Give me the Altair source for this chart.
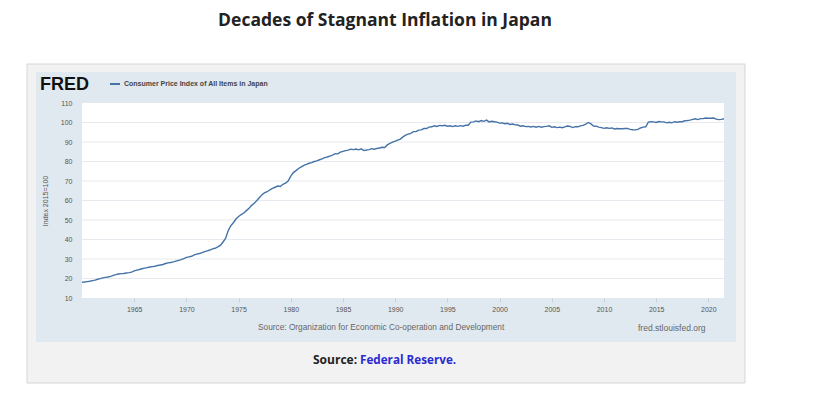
import altair as alt
import pandas as pd

# Quarterly CPI (2015=100), Japan, Q1 1960 .. Q3 2021
cpi = [
    18.1, 18.2, 18.4, 18.6,   # 1960
    18.9, 19.2, 19.6, 19.9,   # 1961
    20.3, 20.6, 20.8, 21.1,   # 1962
    21.6, 22.0, 22.3, 22.5,   # 1963
    22.6, 22.8, 23.0, 23.3,   # 1964
    23.9, 24.3, 24.6, 25.0,   # 1965
    25.3, 25.6, 25.9, 26.1,   # 1966
    26.3, 26.7, 26.9, 27.2,   # 1967
    27.7, 28.0, 28.2, 28.5,   # 1968
    28.9, 29.3, 29.7, 30.2,   # 1969
    30.8, 31.1, 31.4, 32.1,   # 1970
    32.5, 32.8, 33.3, 33.8,   # 1971
    34.2, 34.6, 35.2, 35.5,   # 1972
    36.2, 37.0, 38.6, 40.5,   # 1973
    44.5, 47.0, 48.6, 50.5,   # 1974
    51.8, 52.8, 53.6, 54.8,   # 1975
    56.0, 57.5, 58.6, 60.0,   # 1976
    61.5, 63.0, 64.0, 64.5,   # 1977
    65.5, 66.2, 66.8, 67.4,   # 1978
    67.2, 68.3, 68.9, 70.0,   # 1979
    72.5, 74.3, 75.3, 76.4,   # 1980
    77.2, 78.0, 78.5, 79.1,   # 1981
    79.4, 80.0, 80.3, 80.9,   # 1982
    81.3, 82.0, 82.3, 82.8,   # 1983
    83.3, 84.0, 83.9, 84.8,   # 1984
    85.2, 85.6, 85.8, 86.3,   # 1985
    86.1, 86.4, 86.0, 86.5,   # 1986
    85.6, 85.9, 86.1, 86.6,   # 1987
    86.3, 86.7, 86.9, 87.3,   # 1988
    87.2, 88.5, 89.3, 89.9,   # 1989
    90.4, 91.0, 91.5, 92.6,   # 1990
    93.5, 94.0, 94.4, 95.3,   # 1991
    95.3, 96.1, 96.2, 96.9,   # 1992
    96.9, 97.6, 97.8, 98.3,   # 1993
    98.0, 98.5, 98.3, 98.6,   # 1994
    98.1, 98.3, 97.9, 98.3,   # 1995
    98.0, 98.4, 98.1, 98.6,   # 1996
    98.6, 100.2, 100.3, 100.8,  # 1997
    100.4, 101.0, 100.6, 101.2,  # 1998
    100.3, 100.6, 100.4, 100.2,  # 1999
    99.7, 99.8, 99.4, 99.6,   # 2000
    99.0, 99.2, 98.8, 98.7,   # 2001
    98.1, 98.3, 97.9, 98.0,   # 2002
    97.7, 98.0, 97.6, 98.0,   # 2003
    97.6, 97.9, 98.0, 98.3,   # 2004
    97.5, 97.8, 97.4, 97.6,   # 2005
    97.3, 97.8, 98.2, 98.0,   # 2006
    97.4, 97.9, 97.8, 98.3,   # 2007
    98.5, 99.2, 100.0, 99.3,  # 2008
    98.2, 98.1, 97.6, 97.4,   # 2009
    97.0, 97.3, 97.0, 97.2,   # 2010
    96.7, 96.9, 96.8, 96.8,   # 2011
    96.9, 97.0, 96.5, 96.3,   # 2012
    96.2, 96.5, 97.2, 97.6,   # 2013
    97.8, 100.2, 100.4, 100.3,  # 2014
    100.0, 100.5, 100.3, 100.3,  # 2015
    99.8, 100.1, 99.8, 100.4,  # 2016
    100.1, 100.4, 100.4, 100.9,  # 2017
    101.0, 101.2, 101.6, 101.9,  # 2018
    101.5, 102.0, 102.0, 102.3,  # 2019
    102.2, 102.2, 102.3, 101.7,  # 2020
    101.5, 101.6, 101.9,        # 2021
]
y_ticks = [10, 20, 30, 40, 50, 60, 70, 80, 90, 100, 110]
grid_values = [20, 30, 40, 50, 60, 70, 80, 90, 100]
x_tick_years = [1965, 1970, 1975, 1980, 1985, 1990, 1995, 2000, 2005, 2010, 2015, 2020]

dates = pd.date_range("1960-01-01", periods=len(cpi), freq="QS")
df = pd.DataFrame({"date": dates.strftime("%Y-%m-%d"), "cpi": cpi})
grid_df = pd.DataFrame({"v": grid_values})
one = pd.DataFrame({"a": [0]})

W, H = 642, 195
FRED_FONT = "Liberation Sans"
PAGE_FONT = "Open Sans"

xscale = alt.Scale(domain=[alt.DateTime(year=1960, month=1, date=1),
                           alt.DateTime(year=2021, month=7, date=1)])
yscale = alt.Scale(domain=[10, 110], nice=False, zero=False)
yaxis = alt.Axis(values=y_ticks, grid=False, domain=False, ticks=False,
                 labelPadding=10, labelFont=FRED_FONT, labelFontSize=7,
                 labelColor="#555555", title="Index 2015=100",
                 titleFont=FRED_FONT, titleFontSize=7, titleFontWeight="normal",
                 titleColor="#555555", titlePadding=12, zindex=1)

def rect(x, x2, y, y2, fill, stroke=None):
    kw = {"fill": fill}
    if stroke:
        kw["stroke"] = stroke
        kw["strokeWidth"] = 1
    return alt.Chart(one).mark_rect(**kw).encode(
        x=alt.value(x), x2=alt.value(x2), y=alt.value(y), y2=alt.value(y2))

def label(text, x, y, size, color, weight="normal", font=FRED_FONT, align="left", angle=0):
    kw = dict(text=text, fontSize=size, color=color, fontWeight=weight, font=font,
              align=align, baseline="middle")
    if angle:
        kw["angle"] = angle
    return alt.Chart(one).mark_text(**kw).encode(x=alt.value(x), y=alt.value(y))

outer = rect(-55, 663, -39, 280, "#f2f2f2", "#d6d6d6")
panel = rect(-46, 654, -31, 239, "#e1e9f0")
plotbg = rect(0, W, 0, H, "#ffffff")

grid = alt.Chart(grid_df).mark_rule(color="#e6e9ed", strokeWidth=1).encode(
    y=alt.Y("v:Q", scale=yscale, axis=yaxis))

line = alt.Chart(df).mark_line(color="#4572a7", strokeWidth=1.4).encode(
    x=alt.X("date:T", scale=xscale,
            axis=alt.Axis(values=[alt.DateTime(year=y, month=1, date=1) for y in x_tick_years],
                          format="%Y", grid=False, domain=False, tickColor="#c8d0d8",
                          tickSize=4, labelPadding=3, labelFont=FRED_FONT,
                          labelFontSize=7, labelColor="#555555", title=None, zindex=1)),
    y=alt.Y("cpi:Q", scale=yscale, axis=yaxis),
)

title = label("Decades of Stagnant Inflation in Japan", 303, -82, 17.5, "#222222",
              weight="bold", font=PAGE_FONT, align="center")
fred = label("FRED", -42, -18, 18, "#111111", weight="bold")
legend_line = alt.Chart(one).mark_rule(color="#4572a7", strokeWidth=2).encode(
    x=alt.value(28), x2=alt.value(38), y=alt.value(-19))
legend_text = label("Consumer Price Index of All Items in Japan", 42, -19, 7, "#444444",
                    weight="bold")
src1 = label("Source: Organization for Economic Co-operation and Development", 176, 225,
             8.3, "#666666")
src2 = label("fred.stlouisfed.org", 556, 225, 8.5, "#666666")
cap1 = label("Source:", 231, 257, 12, "#222222", weight="bold", font=PAGE_FONT)
cap2 = label("Federal Reserve.", 278, 257, 11.7, "#2b2bd0", weight="bold", font=PAGE_FONT)

chart = alt.layer(
    outer, panel, plotbg, grid, line, title, fred, legend_line, legend_text,
    src1, src2, cap1, cap2
).properties(
    width=W, height=H,
    autosize=alt.AutoSizeParams(type="none"),
    padding={"left": 74, "top": 95, "right": 106, "bottom": 90},
).configure_view(stroke=None)

chart.save("out.html", embed_options={"renderer": "svg", "actions": False})
